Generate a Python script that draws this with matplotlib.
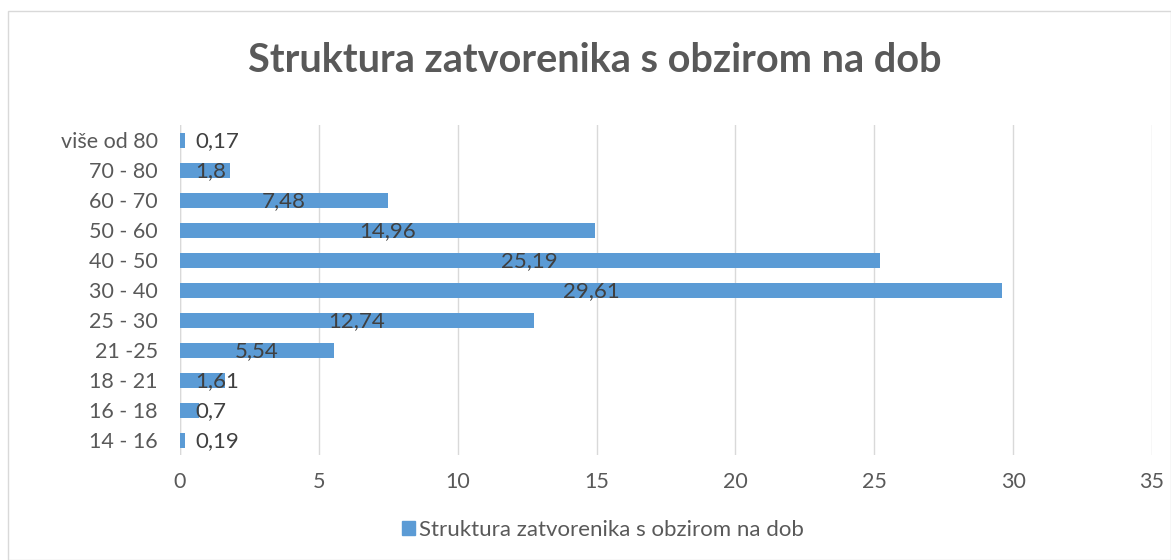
import matplotlib
matplotlib.use("Agg")
import matplotlib.pyplot as plt
from matplotlib.patches import Rectangle

categories = ["14 - 16", "16 - 18", "18 - 21", "21 -25", "25 - 30", "30 - 40",
              "40 - 50", "50 - 60", "60 - 70", "70 - 80", "više od 80"]
values = [0.19, 0.7, 1.61, 5.54, 12.74, 29.61, 25.19, 14.96, 7.48, 1.8, 0.17]
labels = ["0,19", "0,7", "1,61", "5,54", "12,74", "29,61", "25,19", "14,96", "7,48", "1,8", "0,17"]
series_name = "Struktura zatvorenika s obzirom na dob"
title = "Struktura zatvorenika s obzirom na dob"
xticks = [0, 5, 10, 15, 20, 25, 30, 35]

plt.rcParams['font.family'] = ['Lato', 'DejaVu Sans']
TXT = "#595959"
BAR = "#5B9BD5"
GRID = "#D9D9D9"

fig = plt.figure(figsize=(11.71, 5.6), dpi=100)
fig.patches.append(Rectangle((8/1171, 0), 1 - 8/1171, 1 - 11/560, transform=fig.transFigure,
                             fill=False, edgecolor=GRID, linewidth=1))
ax = fig.add_axes([180/1171, 1 - 455/560, (1152 - 180)/1171, 330/560])

y = list(range(len(categories)))
ax.barh(y, values, height=0.5, color=BAR, zorder=3)
ax.set_xlim(0, 35)
ax.set_ylim(-0.5, len(categories) - 0.5)
ax.set_yticks(y)
ax.set_yticklabels(categories)
ax.set_xticks(xticks)
ax.set_xticklabels([str(t) for t in xticks])
ax.tick_params(axis='both', length=0, colors=TXT, labelsize=15.5)
ax.tick_params(axis='y', pad=16)
ax.tick_params(axis='x', pad=12)
ax.grid(axis='x', color=GRID, linewidth=1, zorder=0)
for s in ax.spines.values():
    s.set_visible(False)
ax.axvline(0, color=GRID, linewidth=1, zorder=2)

for yi, v, lab in zip(y, values, labels):
    if v < 2.5:
        ax.annotate(lab, (0, yi), xytext=(15, -1), textcoords="offset pixels",
                    ha='left', va='center', color="#404040", fontsize=16, zorder=4)
    else:
        ax.text(v / 2, yi - 0.05, lab, ha='center', va='center', color="#404040",
                fontsize=16, zorder=4)

fig.text(595/1171, 1 - 60/560, title, ha='center', va='center', fontsize=28.5,
         fontweight='bold', color=TXT)

handle = Rectangle((0, 0), 1, 1, color=BAR)
fig.legend([handle], [series_name], loc='center', bbox_to_anchor=(603/1171, 1 - 530/560),
           frameon=False, fontsize=16, labelcolor=TXT, handlelength=0.6,
           handleheight=0.6, handletextpad=0.2)

fig.savefig("out.png", dpi=100)
